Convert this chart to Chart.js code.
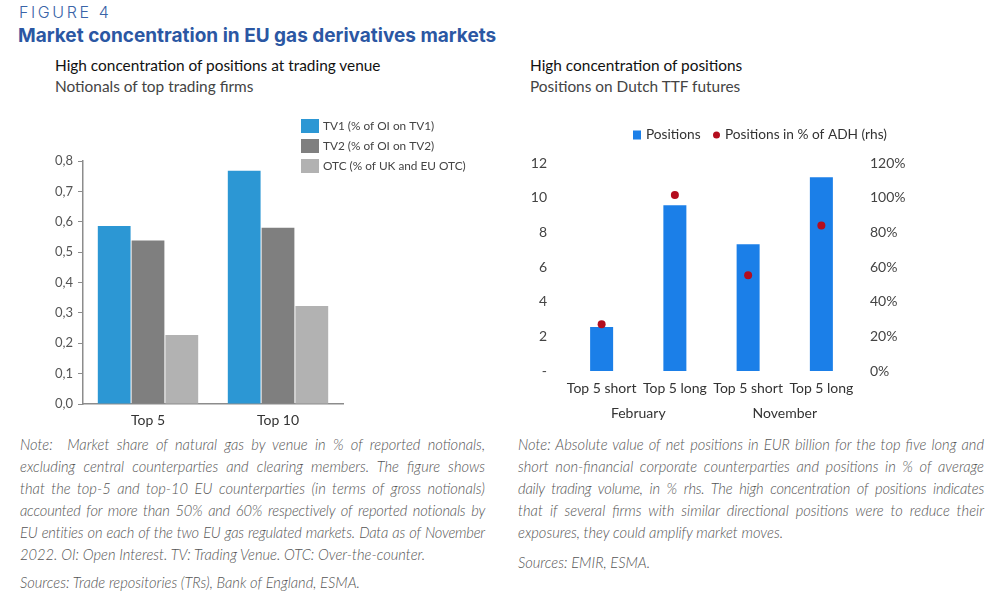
<!DOCTYPE html>
<html>
<head>
<meta charset="utf-8">
<script src="https://cdn.jsdelivr.net/npm/chart.js@4.4.1/dist/chart.umd.min.js"></script>
<style>
  body { margin: 0; width: 986px; height: 598px; background: #fff; position: relative; overflow: hidden; font-family: Lato, sans-serif; }
  .abs { position: absolute; white-space: nowrap; }
  #fig { left: 19px; top: 2px; font-size: 16px; letter-spacing: 2.6px; color: #3a64a8; font-family: Inter, sans-serif; font-weight: 300; }
  #title { left: 18px; top: 24px; font-size: 19px; font-weight: 700; color: #2b57a3; font-family: Inter, sans-serif; }
  .sub1 { font-size: 15.4px; color: #111; }
  .sub2 { font-size: 15.4px; color: #444; }
  .note { font-family: Lato, sans-serif; font-style: italic; font-weight: 300; font-size: 14.7px; color: #555; line-height: 22px; white-space: normal; }
  .note div { text-align: justify; text-align-last: justify; white-space: nowrap; }
  .note div.last { text-align-last: left; }
  .note div.tight { letter-spacing: -0.2px; }
  canvas { position: absolute; }
</style>
</head>
<body>
<div id="fig" class="abs">FIGURE 4</div>
<div id="title" class="abs">Market concentration in EU gas derivatives markets</div>

<div class="abs sub1" style="left:55px;top:56px;">High concentration of positions at trading venue</div>
<div class="abs sub2" style="left:55px;top:77px;">Notionals of top trading firms</div>
<div class="abs sub1" style="left:530px;top:56px;">High concentration of positions</div>
<div class="abs sub2" style="left:530px;top:77px;">Positions on Dutch TTF futures</div>

<div style="position:absolute;left:0;top:100px;width:490px;height:330px;"><canvas id="venueChart"></canvas></div>
<div style="position:absolute;left:510px;top:110px;width:476px;height:320px;"><canvas id="ttfChart"></canvas></div>

<div class="abs note" style="left:20px;top:433px;width:465px;">
  <div>Note:&nbsp; Market share of natural gas by venue in % of reported notionals,</div>
  <div>excluding central counterparties and clearing members. The figure shows</div>
  <div>that the top-5 and top-10 EU counterparties (in terms of gross notionals)</div>
  <div class="tight">accounted for more than 50% and 60% respectively of reported notionals by</div>
  <div class="tight">EU entities on each of the two EU gas regulated markets. Data as of November</div>
  <div class="last">2022. OI: Open Interest. TV: Trading Venue. OTC: Over-the-counter.</div>
</div>
<div class="abs note" style="left:20px;top:571px;">Sources: Trade repositories (TRs), Bank of England, ESMA.</div>

<div class="abs note" style="left:518px;top:433px;width:466px;">
  <div>Note: Absolute value of net positions in EUR billion for the top five long and</div>
  <div>short non-financial corporate counterparties and positions in % of average</div>
  <div class="tight">daily trading volume, in % rhs. The high concentration of positions indicates</div>
  <div>that if several firms with similar directional positions were to reduce their</div>
  <div class="last">exposures, they could amplify market moves.</div>
</div>
<div class="abs note" style="left:518px;top:551px;">Sources: EMIR, ESMA.</div>

<script>
// left panel: share of notionals by venue
const venueCategories = ['Top 5', 'Top 10'];
const tv1Share = [0.586, 0.768];
const tv2Share = [0.538, 0.58];
const otcShare = [0.227, 0.323];

// right panel: positions on Dutch TTF futures
const positionCategories = ['Top 5 short', 'Top 5 long', 'Top 5 short', 'Top 5 long'];
const positionMonths = ['February', 'November'];
const positionsBn = [2.54, 9.56, 7.31, 11.18];
const positionsPctAdh = [27, 101.5, 55.2, 83.9];

Chart.defaults.font.family = 'Lato, sans-serif';
Chart.defaults.animation = false;

// legend drawn at a fixed spot, like in the original figure
const fixedLegend = {
  id: 'fixedLegend',
  afterDraw(chart, args, opts) {
    const ctx = chart.ctx;
    ctx.save();
    ctx.font = opts.font;
    ctx.textBaseline = 'middle';
    chart.data.datasets.forEach((ds, i) => {
      const p = opts.items[i];
      ctx.fillStyle = ds.backgroundColor;
      if (ds.type === 'line') {
        ctx.beginPath();
        ctx.arc(p.x + opts.dotR, p.y, opts.dotR, 0, Math.PI * 2);
        ctx.fill();
        ctx.fillStyle = opts.color;
        ctx.fillText(ds.label, p.x + opts.dotR * 2 + opts.gap, p.y);
      } else {
        ctx.fillRect(p.x, p.y - opts.boxH / 2, opts.boxW, opts.boxH);
        ctx.fillStyle = opts.color;
        ctx.fillText(ds.label, p.x + opts.boxW + opts.gap, p.y);
      }
    });
    ctx.restore();
  }
};

new Chart(document.getElementById('venueChart'), {
  type: 'bar',
  data: {
    labels: venueCategories,
    datasets: [
      { label: 'TV1 (% of OI on TV1)', data: tv1Share, backgroundColor: '#2c97d4' },
      { label: 'TV2 (% of OI on TV2)', data: tv2Share, backgroundColor: '#7f7f7f' },
      { label: 'OTC (% of UK and EU OTC)', data: otcShare, backgroundColor: '#b2b2b2' }
    ]
  },
  options: {
    responsive: true,
    maintainAspectRatio: false,
    layout: { padding: { top: 61, right: 147, left: 0, bottom: 0 } },
    datasets: { bar: { categoryPercentage: 0.78, barPercentage: 0.97 } },
    plugins: {
      legend: { display: false },
      tooltip: { enabled: false },
      fixedLegend: {
        font: '11.8px Lato, sans-serif', color: '#444', boxW: 18, boxH: 14, gap: 4,
        items: [{ x: 301, y: 26 }, { x: 301, y: 46 }, { x: 301, y: 66 }]
      }
    },
    scales: {
      x: {
        grid: { display: false, drawTicks: false },
        border: { display: true, color: '#8c8c8c', width: 1.5 },
        ticks: { color: '#333', font: { size: 14 }, padding: 8 },
        afterFit: (axis) => { axis.height = 26; }
      },
      y: {
        min: 0, max: 0.8,
        grid: { drawOnChartArea: false, drawTicks: true, tickLength: 5, color: '#8c8c8c' },
        border: { display: true, color: '#8c8c8c', width: 1.5 },
        ticks: {
          stepSize: 0.1, color: '#555', font: { size: 13 }, padding: 5,
          callback: (v) => v.toFixed(1).replace('.', ',')
        },
        afterFit: (axis) => { axis.width = 83; }
      }
    }
  },
  plugins: [fixedLegend]
});

new Chart(document.getElementById('ttfChart'), {
  type: 'bar',
  data: {
    labels: positionCategories,
    datasets: [
      { label: 'Positions', data: positionsBn, backgroundColor: '#1b7fe8', yAxisID: 'y', xAxisID: 'x' },
      {
        type: 'line', label: 'Positions in % of ADH (rhs)', data: positionsPctAdh,
        backgroundColor: '#b40d1e', borderColor: '#b40d1e', showLine: false,
        pointRadius: 4, pointBorderWidth: 0, yAxisID: 'y1', xAxisID: 'x', order: -1
      }
    ]
  },
  options: {
    responsive: true,
    maintainAspectRatio: false,
    layout: { padding: { top: 53, right: 68, left: 0, bottom: 0 } },
    datasets: { bar: { categoryPercentage: 0.314, barPercentage: 1 } },
    plugins: {
      legend: { display: false },
      tooltip: { enabled: false },
      fixedLegend: {
        font: '13.7px Lato, sans-serif', color: '#333', boxW: 8, boxH: 9, gap: 5, dotR: 3.5,
        items: [{ x: 123, y: 25 }, { x: 203, y: 25 }]
      }
    },
    scales: {
      x: {
        weight: 0,
        grid: { display: false, drawTicks: false },
        border: { display: false },
        ticks: { color: '#333', font: { size: 14 }, padding: 9, maxRotation: 0, autoSkip: false },
        afterFit: (axis) => { axis.height = 28; }
      },
      x2: {
        type: 'category',
        labels: positionMonths,
        position: 'bottom',
        weight: 1,
        grid: { display: false, drawTicks: false },
        border: { display: false },
        ticks: { color: '#333', font: { size: 14 }, padding: 6 },
        afterFit: (axis) => { axis.height = 31; }
      },
      y: {
        position: 'left',
        min: 0, max: 12,
        grid: { display: false, drawTicks: false },
        border: { display: false },
        ticks: {
          stepSize: 2, color: '#444', font: { size: 14 }, padding: 18,
          callback: (v) => (v === 0 ? '-' : v)
        },
        afterFit: (axis) => { axis.width = 55; }
      },
      y1: {
        position: 'right',
        min: 0, max: 120,
        grid: { display: false, drawTicks: false },
        border: { display: false },
        ticks: {
          stepSize: 20, color: '#444', font: { size: 14 }, padding: 12,
          callback: (v) => v + '%'
        },
        afterFit: (axis) => { axis.width = 60; }
      }
    }
  },
  plugins: [fixedLegend]
});
</script>
</body>
</html>
